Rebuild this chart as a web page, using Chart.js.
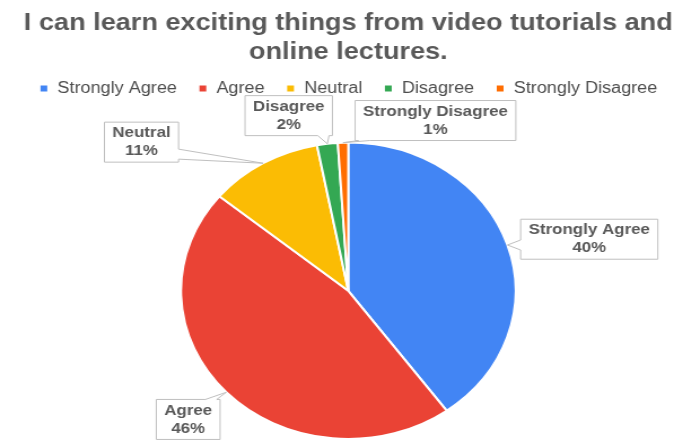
<!DOCTYPE html>
<html>
<head>
<meta charset="utf-8">
<script src="https://cdn.jsdelivr.net/npm/chart.js@4/dist/chart.umd.min.js"></script>
<style>
    html, body { margin: 0; padding: 0; background: #fff; overflow: hidden; }
    /* the chart is laid out narrower and then widened, so the pie comes out as an oval */
    #wrap { width: 605px; height: 441px; transform: scaleX(1.129); transform-origin: 0 0; }
</style>
</head>
<body>
<div id="wrap"><canvas id="pieChart" width="605" height="441" style="width:605px;height:441px"></canvas></div>
<script>
const titleLines = ['I can learn exciting things from video tutorials and', 'online lectures.'];
const categories = ['Strongly Agree', 'Agree', 'Neutral', 'Disagree', 'Strongly Disagree'];
const percents = [40, 46, 11, 2, 1];
const sliceColors = ['#4285F4', '#EA4335', '#FBBC04', '#34A853', '#FF6D01'];

// callout boxes: centre relative to the pie centre (in radii) and the side the pointer leaves from
const calloutPos = [[1.44, -0.348], [-0.957, 0.868], [-1.236, -1.003], [-0.356, -1.182], [0.521, -1.149]];
const calloutSide = ['left', 'top', 'right', 'bottom', 'bottom'];

const textGray = '#595959';
Chart.defaults.font.family = '"Liberation Sans", Arial, sans-serif';

// box with a wedge pointing at (tx, ty)
function drawCallout(ctx, x, y, w, h, tx, ty, side) {
    const half = 5;
    const bx = Math.min(Math.max(tx, x + half + 3), x + w - half - 3);
    const by = Math.min(Math.max(ty, y + half + 3), y + h - half - 3);
    ctx.beginPath();
    ctx.moveTo(x, y);
    if (side === 'top') { ctx.lineTo(bx - half, y); ctx.lineTo(tx, ty); ctx.lineTo(bx + half, y); }
    ctx.lineTo(x + w, y);
    if (side === 'right') { ctx.lineTo(x + w, by - half); ctx.lineTo(tx, ty); ctx.lineTo(x + w, by + half); }
    ctx.lineTo(x + w, y + h);
    if (side === 'bottom') { ctx.lineTo(bx + half, y + h); ctx.lineTo(tx, ty); ctx.lineTo(bx - half, y + h); }
    ctx.lineTo(x, y + h);
    if (side === 'left') { ctx.lineTo(x, by + half); ctx.lineTo(tx, ty); ctx.lineTo(x, by - half); }
    ctx.closePath();
    ctx.fillStyle = '#fff';
    ctx.fill();
    ctx.strokeStyle = '#BFBFBF';
    ctx.lineWidth = 1;
    ctx.stroke();
}

const calloutLabels = {
    id: 'calloutLabels',
    afterDatasetsDraw(chart) {
        const ctx = chart.ctx;
        const meta = chart.getDatasetMeta(0);
        const total = percents.reduce((a, b) => a + b, 0);
        ctx.save();
        ctx.font = 'bold 15px "Liberation Sans", Arial, sans-serif';
        ctx.textAlign = 'center';
        ctx.textBaseline = 'middle';
        meta.data.forEach((arc, i) => {
            const p = arc.getProps(['x', 'y', 'startAngle', 'endAngle', 'outerRadius'], true);
            const mid = (p.startAngle + p.endAngle) / 2;
            const tx = p.x + Math.cos(mid) * p.outerRadius;
            const ty = p.y + Math.sin(mid) * p.outerRadius;
            const lines = [categories[i], Math.round(percents[i] / total * 100) + '%'];
            const w = Math.max(...lines.map(l => ctx.measureText(l).width)) + 14;
            const h = 40;
            const x = p.x + calloutPos[i][0] * p.outerRadius - w / 2;
            const y = p.y + calloutPos[i][1] * p.outerRadius - h / 2;
            drawCallout(ctx, x, y, w, h, tx, ty, calloutSide[i]);
            ctx.fillStyle = textGray;
            ctx.fillText(lines[0], x + w / 2, y + h / 2 - 9);
            ctx.fillText(lines[1], x + w / 2, y + h / 2 + 9);
        });
        ctx.restore();
    }
};

// extra room under the legend before the pie starts
const legendGap = {
    id: 'legendGap',
    beforeInit(chart) {
        const fitLegend = chart.legend.fit;
        chart.legend.fit = function () {
            fitLegend.bind(chart.legend)();
            this.height += 35;
        };
    }
};

new Chart(document.getElementById('pieChart'), {
    type: 'pie',
    data: {
        labels: categories,
        datasets: [{
            data: percents,
            backgroundColor: sliceColors,
            borderColor: '#fff',
            borderWidth: 2,
            hoverOffset: 0
        }]
    },
    options: {
        responsive: false,
        animation: false,
        events: [],
        layout: { padding: { left: 12, bottom: 1 } },
        plugins: {
            title: {
                display: true,
                text: titleLines,
                color: textGray,
                font: { size: 24, weight: 'bold', lineHeight: 1.2 },
                padding: { top: 9, bottom: -5 }
            },
            legend: {
                position: 'top',
                labels: {
                    color: '#4d4d4d',
                    font: { size: 16 },
                    boxWidth: 8,
                    boxHeight: 8,
                    padding: 19
                }
            },
            tooltip: { enabled: false }
        }
    },
    plugins: [legendGap, calloutLabels]
});
</script>
</body>
</html>
